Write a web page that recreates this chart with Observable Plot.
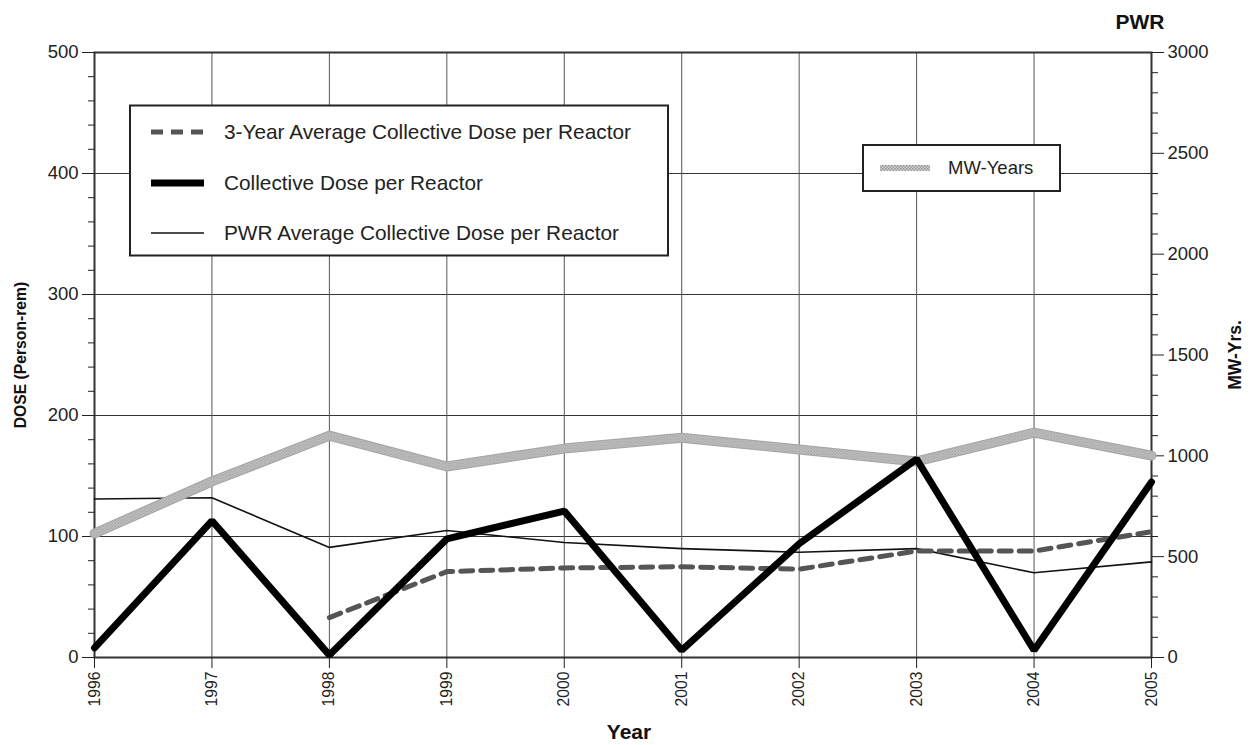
<!DOCTYPE html>
<html>
<head>
<meta charset="utf-8">
<script src="https://cdn.jsdelivr.net/npm/d3@7"></script>
<script src="https://cdn.jsdelivr.net/npm/@observablehq/plot@0.6"></script>
<style>
  html, body { margin: 0; padding: 0; background: #fff; }
  #chart { position: relative; width: 1250px; height: 745px; }
  #chart svg { font-family: "Liberation Sans", Arial, sans-serif; }
</style>
</head>
<body>
<div id="chart"></div>
<script>
// ---- data ----
const years = [1996, 1997, 1998, 1999, 2000, 2001, 2002, 2003, 2004, 2005];
const collectiveDose = [8, 113, 2, 98, 121, 6, 94, 164, 6, 145];
const threeYearYears = [1998, 1999, 2000, 2001, 2002, 2003, 2004, 2005];
const threeYearAvg = [33, 71, 74, 75, 73, 88, 88, 104];
const pwrAverage = [131, 132, 91, 105, 95, 90, 87, 90, 70, 79];
const mwYears = [615, 873, 1100, 947, 1036, 1090, 1031, 972, 1115, 1001];
const doseTicks = [0, 100, 200, 300, 400, 500];
const doseMinorTicks = d3.range(0, 501, 20).filter(v => v % 100 !== 0);
const mwTicks = [0, 500, 1000, 1500, 2000, 2500, 3000];
const mwMinorTicks = d3.range(0, 3001, 100).filter(v => v % 500 !== 0);
const legendItems = [
  "3-Year Average Collective Dose per Reactor",
  "Collective Dose per Reactor",
  "PWR Average Collective Dose per Reactor"
];
const mwLegendLabel = "MW-Years";

// MW-years plotted on the dose scale (3000 MW-yrs <-> 500 rem)
const mwFactor = 3000 / 500;

const collectiveData = years.map((y, i) => ({year: y, v: collectiveDose[i]}));
const threeYearData = threeYearYears.map((y, i) => ({year: y, v: threeYearAvg[i]}));
const pwrData = years.map((y, i) => ({year: y, v: pwrAverage[i]}));
const mwData = years.map((y, i) => ({year: y, v: mwYears[i] / mwFactor}));

const chart = Plot.plot({
  width: 1250,
  height: 745,
  marginLeft: 94,
  marginRight: 99,
  marginTop: 52,
  marginBottom: 88,
  style: {fontFamily: "Liberation Sans, Arial, sans-serif", fontSize: "16px", color: "#222", background: "#fff"},
  x: {domain: [1996, 2005], axis: null},
  y: {domain: [0, 500], axis: null},
  marks: [
    Plot.gridY({ticks: doseTicks.filter(t => t > 0 && t < 500), stroke: "#333", strokeOpacity: 1, strokeWidth: 1}),
    Plot.gridX({ticks: years, stroke: "#555", strokeOpacity: 1, strokeWidth: 1}),
    Plot.frame({stroke: "#333", strokeWidth: 2}),
    // left axis
    Plot.axisY({anchor: "left", ticks: doseTicks, tickSize: 12, tickPadding: 4, label: null, fontSize: 18.5}),
    Plot.axisY({anchor: "left", ticks: doseMinorTicks, tickSize: 6, tickFormat: () => "", label: null}),
    // right axis (MW-Yrs.)
    Plot.axisY({anchor: "right", ticks: mwTicks.map(v => v / mwFactor), tickFormat: d => String(Math.round(d * mwFactor)), tickSize: 12, tickPadding: 4, label: null, fontSize: 18.5}),
    Plot.axisY({anchor: "right", ticks: mwMinorTicks.map(v => v / mwFactor), tickSize: 6, tickFormat: () => "", label: null}),
    // x axis
    Plot.axisX({ticks: years, tickFormat: d => String(d), tickRotate: -90, tickSize: 11, tickPadding: 3, label: null, fontSize: 15.7}),
    // series
    Plot.line(pwrData, {x: "year", y: "v", stroke: "#111", strokeWidth: 1.6}),
    Plot.line(mwData, {x: "year", y: "v", stroke: "#a4a4a4", strokeWidth: 10, strokeLinejoin: "round"}),
    Plot.line(mwData, {x: "year", y: "v", stroke: "url(#mwpat)", strokeWidth: 8, strokeLinejoin: "round"}),
    Plot.line(threeYearData, {x: "year", y: "v", stroke: "#555", strokeWidth: 5, strokeDasharray: "12,8"}),
    Plot.line(collectiveData, {x: "year", y: "v", stroke: "#000", strokeWidth: 7, strokeLinejoin: "miter"}),
    // titles
    Plot.text(["DOSE (Person-rem)"], {frameAnchor: "left", textAnchor: "middle", dx: -74, rotate: -90, fontWeight: "bold", fontSize: 15.7, fill: "#111"}),
    Plot.text(["MW-Yrs."], {frameAnchor: "right", textAnchor: "middle", dx: 84, rotate: -90, fontWeight: "bold", fontSize: 17.5, fill: "#111"}),
    Plot.text(["Year"], {frameAnchor: "bottom", dy: 81, dx: 6, fontWeight: "bold", fontSize: 21, fill: "#111"}),
    Plot.text(["PWR"], {frameAnchor: "top-right", dx: 13, dy: -38, textAnchor: "end", fontWeight: "bold", fontSize: 21, fill: "#111"})
  ]
});

document.getElementById("chart").appendChild(chart);

// pattern for MW-years band
const svg = d3.select(chart);
const defs = svg.insert("defs", ":first-child");
const pat = defs.append("pattern").attr("id", "mwpat").attr("patternUnits", "userSpaceOnUse")
  .attr("width", 3).attr("height", 3);
pat.append("rect").attr("width", 3).attr("height", 3).attr("fill", "#d6d6d6");
pat.append("rect").attr("width", 1.5).attr("height", 1.5).attr("fill", "#8c8c8c");
pat.append("rect").attr("x", 1.5).attr("y", 1.5).attr("width", 1.5).attr("height", 1.5).attr("fill", "#9c9c9c");

// legends
const lg = svg.append("g").attr("font-family", "Liberation Sans, Arial, sans-serif")
  .attr("fill", "#222").attr("text-anchor", "start");
lg.append("rect").attr("x", 130).attr("y", 105.5).attr("width", 538).attr("height", 150)
  .attr("fill", "#fff").attr("stroke", "#222").attr("stroke-width", 2);
const rowsY = [132, 183, 233];
const styles = [
  {stroke: "#555", w: 5, dash: "12,8"},
  {stroke: "#000", w: 7, dash: null},
  {stroke: "#111", w: 1.6, dash: null}
];
legendItems.forEach((t, i) => {
  const s = styles[i];
  const l = lg.append("line").attr("x1", 151).attr("x2", 204).attr("y1", rowsY[i]).attr("y2", rowsY[i])
    .attr("stroke", s.stroke).attr("stroke-width", s.w);
  if (s.dash) l.attr("stroke-dasharray", s.dash);
  lg.append("text").attr("x", 224).attr("y", rowsY[i]).attr("dy", "0.35em")
    .attr("font-size", 20.8).attr("text-anchor", "start").text(t);
});
lg.append("rect").attr("x", 863).attr("y", 145).attr("width", 197).attr("height", 46)
  .attr("fill", "#fff").attr("stroke", "#222").attr("stroke-width", 2);
lg.append("line").attr("x1", 880).attr("x2", 930).attr("y1", 168).attr("y2", 168)
  .attr("stroke", "url(#mwpat)").attr("stroke-width", 6);
lg.append("text").attr("x", 948).attr("y", 168).attr("dy", "0.35em")
  .attr("font-size", 18.5).attr("text-anchor", "start").text(mwLegendLabel);
</script>
</body>
</html>
